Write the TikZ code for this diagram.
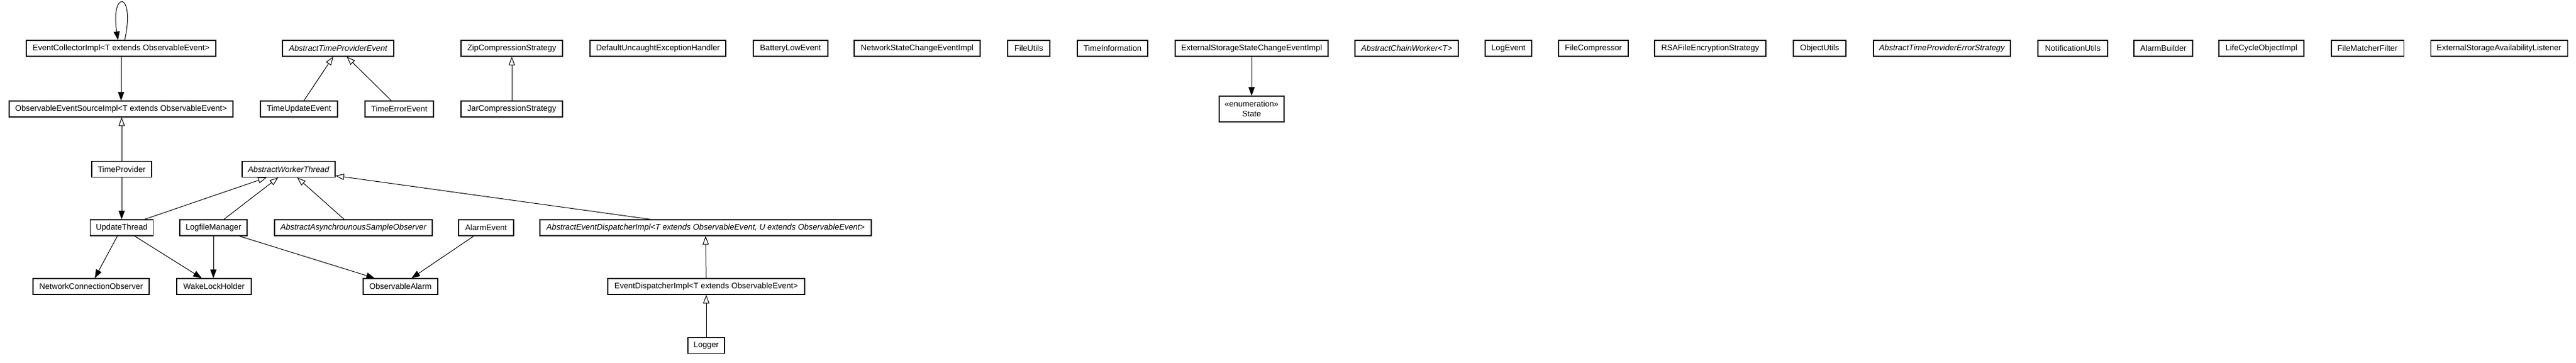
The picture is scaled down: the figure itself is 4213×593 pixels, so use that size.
\documentclass[tikz,border=0pt]{standalone}
\usepackage{fontspec}
\setmainfont{Liberation Sans}
\usetikzlibrary{arrows.meta}
\tikzset{
  cls/.style={draw, line width=1.1pt, fill=white, minimum height=26pt, inner sep=0pt,
    font=\fontsize{13.2}{16}\selectfont},
  acls/.style={cls, font=\fontsize{13.2}{16}\selectfont\itshape},
  dep/.style={line width=1pt, -{Triangle[length=14pt,width=10pt]}},
  inh/.style={line width=1pt, -{Triangle[open,length=14pt,width=10pt,fill=white]}}
}
\begin{document}
\begin{tikzpicture}[x=1pt,y=-1pt]
\useasboundingbox (0,0) rectangle (4213,593);
% row 1
\node[cls, minimum width=310pt] (eci) at (198,79) {EventCollectorImpl<T extends ObservableEvent>};
\node[acls, minimum width=182pt] (atpe) at (553,79) {AbstractTimeProviderEvent};
\node[cls, minimum width=166pt] (zip) at (837,79) {ZipCompressionStrategy};
\node[cls, minimum width=222pt] (dueh) at (1076,79) {DefaultUncaughtExceptionHandler};
\node[cls, minimum width=122pt] (ble) at (1293,79) {BatteryLowEvent};
\node[cls, minimum width=206pt] (nsce) at (1500,79) {NetworkStateChangeEventImpl};
\node[cls, minimum width=69pt] (fu) at (1682.5,79) {FileUtils};
\node[cls, minimum width=115pt] (ti) at (1819.5,79) {TimeInformation};
\node[cls, minimum width=250pt] (essce) at (2047,79) {ExternalStorageStateChangeEventImpl};
\node[acls, minimum width=169pt] (acw) at (2300.5,79) {AbstractChainWorker<T>};
\node[cls, minimum width=76pt] (le) at (2467,79) {LogEvent};
\node[cls, minimum width=114pt] (fc) at (2606,79) {FileCompressor};
\node[cls, minimum width=182pt] (rsa) at (2797,79) {RSAFileEncryptionStrategy};
\node[cls, minimum width=86pt] (ou) at (2976,79) {ObjectUtils};
\node[acls, minimum width=224pt] (atpes) at (3176,79) {AbstractTimeProviderErrorStrategy};
\node[cls, minimum width=114pt] (nu) at (3390,79) {NotificationUtils};
\node[cls, minimum width=96pt] (ab) at (3538,79) {AlarmBuilder};
\node[cls, minimum width=139pt] (lco) at (3698.5,79) {LifeCycleObjectImpl};
\node[cls, minimum width=118pt] (fmf) at (3872,79) {FileMatcherFilter};
\node[cls, minimum width=224pt] (esal) at (4087,79) {ExternalStorageAvailabilityListener};
% row 2
\node[cls, minimum width=366pt] (oesi) at (198,178) {ObservableEventSourceImpl<T extends ObservableEvent>};
\node[cls, minimum width=126pt] (tue) at (489,178) {TimeUpdateEvent};
\node[cls, minimum width=112pt] (tee) at (653,178) {TimeErrorEvent};
\node[cls, minimum width=166pt] (jar) at (837,178) {JarCompressionStrategy};
\node[cls, minimum width=106pt, minimum height=42pt, align=center] (state) at (2047,178) {«enumeration»\\State};
% row 3
\node[cls, minimum width=98pt] (tp) at (199,276.5) {TimeProvider};
\node[acls, minimum width=152pt] (awt) at (472,276.5) {AbstractWorkerThread};
% row 4
\node[cls, minimum width=103pt] (ut) at (199,372) {UpdateThread};
\node[cls, minimum width=110pt] (lm) at (349,372) {LogfileManager};
\node[acls, minimum width=258pt] (aaso) at (578,372) {AbstractAsynchrounousSampleObserver};
\node[cls, minimum width=90pt] (ae) at (795,372) {AlarmEvent};
\node[acls, minimum width=542pt] (aedi) at (1154,372) {AbstractEventDispatcherImpl<T extends ObservableEvent, U extends ObservableEvent>};
% row 5
\node[cls, minimum width=190pt] (nco) at (149,468) {NetworkConnectionObserver};
\node[cls, minimum width=122pt] (wlh) at (350,468) {WakeLockHolder};
\node[cls, minimum width=122pt] (oa) at (655,468) {ObservableAlarm};
\node[cls, minimum width=322pt] (edi) at (1155,468) {EventDispatcherImpl<T extends ObservableEvent>};
% row 6
\node[cls, minimum width=60pt] (logger) at (1155,564.5) {Logger};
% edges
\draw[dep] ([xshift=6pt]eci.north) .. controls (222,-16) and (180,-16) .. ([xshift=-5pt]eci.north);
\draw[dep] (eci.south) -- (oesi.north);
\draw[inh] (tp.north) -- (tp.north |- oesi.south);
\draw[dep] (tp.south) -- (ut.north);
\draw[inh] ([xshift=8pt]tue.north) -- ([xshift=-8pt]atpe.south);
\draw[inh] ([xshift=-13pt]tee.north) -- ([xshift=14pt]atpe.south);
\draw[inh] (jar.north) -- (zip.south);
\draw[dep] (essce.south) -- (state.north);
\draw[inh] ([xshift=37pt]ut.north) -- ([xshift=-36pt]awt.south);
\draw[inh] ([xshift=17pt]lm.north) -- ([xshift=-17pt]awt.south);
\draw[inh] ([xshift=-15pt]aaso.north) -- ([xshift=14pt]awt.south);
\draw[inh] ([xshift=-89pt]aedi.north) -- ([yshift=3pt]awt.south east);
\draw[dep] ([xshift=-7pt]ut.south) -- ([xshift=6pt]nco.north);
\draw[dep] ([xshift=21pt]ut.south) -- ([xshift=-20pt]wlh.north);
\draw[dep] (lm.south) -- ([xshift=-1pt]wlh.north);
\draw[dep] ([xshift=42pt]lm.south) -- ([xshift=-42pt]oa.north);
\draw[dep] ([xshift=-20pt]ae.south) -- ([xshift=18pt]oa.north);
\draw[inh] (edi.north) -- (aedi.south);
\draw[inh] (logger.north) -- (edi.south);
\end{tikzpicture}
\end{document}
